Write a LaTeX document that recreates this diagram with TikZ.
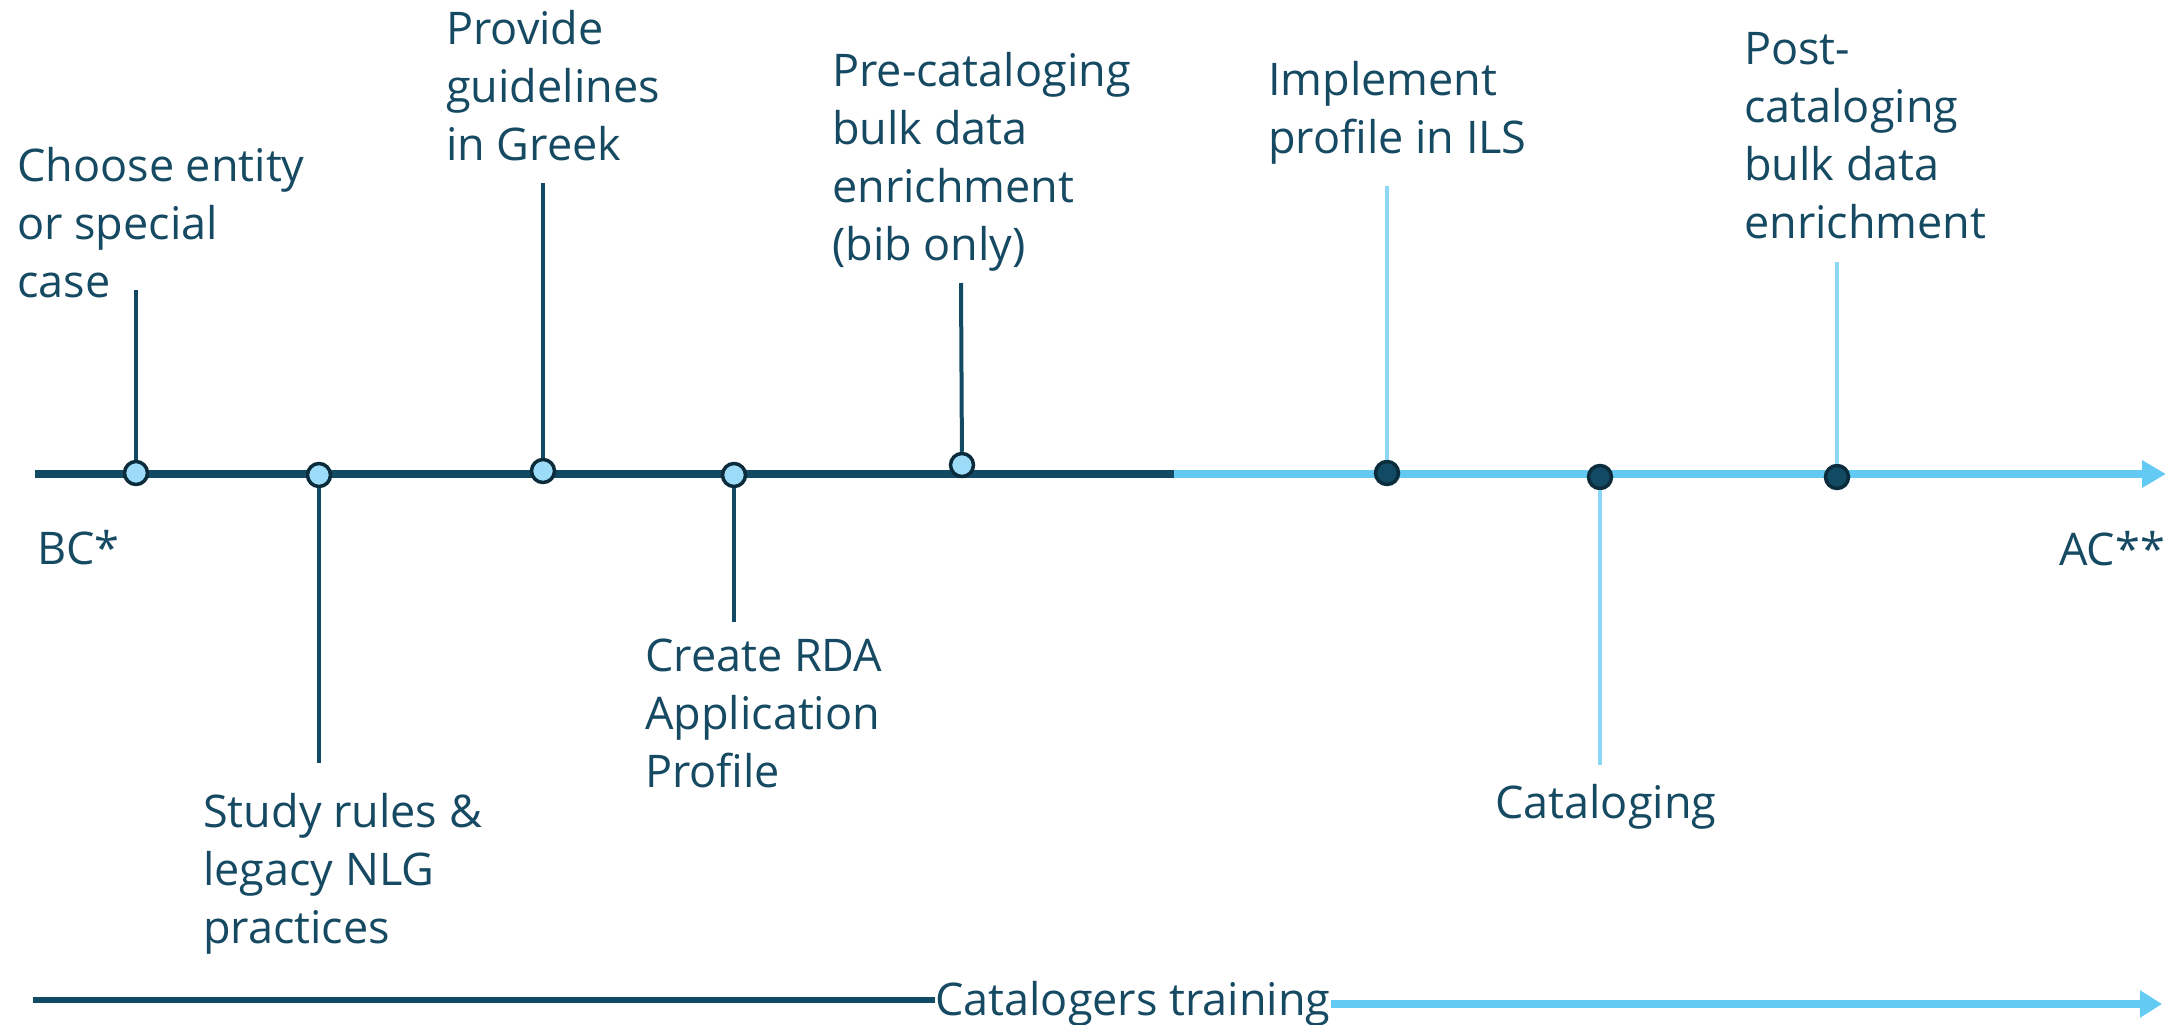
\documentclass[tikz,border=0pt]{standalone}
\usepackage{fontspec}
\setmainfont{Open Sans}
\usetikzlibrary{arrows.meta}
\definecolor{navy}{HTML}{134A63}
\definecolor{navyd}{HTML}{0B2C3C}
\definecolor{sky}{HTML}{63CAF3}
\definecolor{skyl}{HTML}{9DDCF8}
\definecolor{skyline}{HTML}{8ED6F6}
\definecolor{txt}{HTML}{164A62}
\begin{document}
\begin{tikzpicture}[x=1pt,y=-1pt,
  lbl/.style={anchor=base west, align=left, inner sep=0pt, text=txt, font=\fontsize{45}{58}\selectfont},
  msoft/.style={circle, draw=navyd, fill=skyl, line width=3.5pt, minimum size=23pt, inner sep=0pt},
  mdark/.style={circle, draw=navyd, fill=navy, line width=3.5pt, minimum size=23pt, inner sep=0pt},
  cdark/.style={draw=navy, line width=4pt},
  clight/.style={draw=skyline, line width=4pt}]
\useasboundingbox (0,0) rectangle (2172,1025);
% main timeline
\coordinate (s) at (35,474);
\coordinate (mid) at (1174,474);
\coordinate (e) at (2166,474);
\draw[navy, line width=8pt] (s) -- (mid);
\draw[sky, line width=8pt, -{Triangle[length=24pt,width=26pt]}] (mid) -- (e);
% labels (anchored at the baseline of their last line)
\node[lbl] (l1) at (17,297) {Choose entity\\or special\\case};
\node[lbl] (l2) at (203,943) {Study rules \&\\legacy NLG\\practices};
\node[lbl] (l3) at (446,160) {Provide\\guidelines\\in Greek};
\node[lbl] (l4) at (645,787) {Create RDA\\Application\\Profile};
\node[lbl] (l5) at (832,260) {Pre-cataloging\\bulk data\\enrichment\\(bib only)};
\node[lbl] (l6) at (1268,153) {Implement\\profile in ILS};
\node[lbl] (l7) at (1495,818) {Cataloging};
\node[lbl] (l8) at (1744,238) {Post-\\cataloging\\bulk data\\enrichment};
\node[lbl] (bc) at (37,564) {BC*};
\node[lbl, anchor=base east] (ac) at (2165,565) {AC**};
% connector ends
\coordinate (t1) at (136,290);
\coordinate (t2) at (319,763);
\coordinate (t3) at (543,183);
\coordinate (t4) at (734,622);
\coordinate (t5) at (961,283);
\coordinate (t6) at (1387,186);
\coordinate (t7) at (1600,765);
\coordinate (t8) at (1837,262);
% markers
\node[msoft] (m1) at (136,473) {};
\node[msoft] (m2) at (319,475) {};
\node[msoft] (m3) at (543,471) {};
\node[msoft] (m4) at (734,475) {};
\node[msoft] (m5) at (962,465) {};
\node[mdark] (m6) at (1387,473) {};
\node[mdark] (m7) at (1600,477) {};
\node[mdark] (m8) at (1837,477) {};
\draw[cdark] (t1) -- (m1);
\draw[cdark] (t2) -- (m2);
\draw[cdark] (t3) -- (m3);
\draw[cdark] (t4) -- (m4);
\draw[cdark] (t5) -- (m5);
\draw[clight] (t6) -- (m6);
\draw[clight] (t7) -- (m7);
\draw[clight] (t8) -- (m8);
% training
\node[lbl] (tr) at (935,1015) {Catalogers training};
\coordinate (b0) at (33,1000);
\coordinate (b3) at (2162,1004);
\draw[navy, line width=6pt] (b0) -- (tr.west |- b0);
\draw[sky, line width=8pt, -{Triangle[length=22pt,width=26pt]}] (tr.east |- b3) -- (b3);
\end{tikzpicture}
\end{document}
